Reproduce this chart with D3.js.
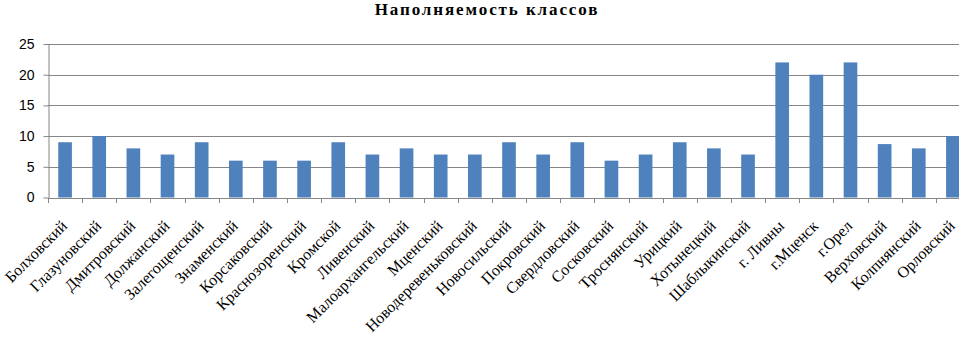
<!DOCTYPE html>
<html>
<head>
<meta charset="utf-8">
<script src="https://cdn.jsdelivr.net/npm/d3@7"></script>
<style>
  body { margin: 0; background: #fff; }
  svg { display: block; }
</style>
</head>
<body>
<svg id="chart" width="959" height="339"></svg>
<script>
// Data
const districts = [
  'Болховский', 'Глазуновский', 'Дмитровский', 'Должанский', 'Залегощенский',
  'Знаменский', 'Корсаковский', 'Краснозоренский', 'Кромской', 'Ливенский',
  'Малоархангельский', 'Мценский', 'Новодеревеньковский', 'Новосильский', 'Покровский',
  'Свердловский', 'Сосковский', 'Троснянский', 'Урицкий', 'Хотынецкий',
  'Шаблыкинский', 'г. Ливны', 'г.Мценск', 'г.Орел', 'Верховский',
  'Колпнянский', 'Орловский'
];
const fillValues = [
  9, 10, 8, 7, 9,
  6, 6, 6, 9, 7,
  8, 7, 7, 9, 7,
  9, 6, 7, 9, 8,
  7, 22, 20, 22, 8.7,
  8, 10
];
const yTicks = [0, 5, 10, 15, 20, 25];
const chartTitle = 'Наполняемость классов';

const SERIF = '"Liberation Serif", "Times New Roman", serif';
const SANS = '"Liberation Sans", Arial, sans-serif';

const svg = d3.select('#chart');
const margin = { left: 48, top: 44, right: 970, bottom: 197.5 };

const x = d3.scaleBand()
  .domain(districts)
  .range([margin.left, margin.right])
  .paddingInner(0.6)
  .paddingOuter(0.3);

const y = d3.scaleLinear()
  .domain([0, 25])
  .range([margin.bottom, margin.top]);

// Title
svg.append('text')
  .attr('x', 487)
  .attr('y', 15)
  .attr('text-anchor', 'middle')
  .style('font-family', SERIF)
  .style('font-weight', 'bold')
  .style('font-size', '17px')
  .style('letter-spacing', '1.9px')
  .text(chartTitle);

// Gridlines
svg.append('g')
  .selectAll('line')
  .data(yTicks.filter(d => d > 0))
  .enter()
  .append('line')
  .attr('x1', margin.left)
  .attr('x2', 959)
  .attr('y1', d => Math.round(y(d)) + 0.5)
  .attr('y2', d => Math.round(y(d)) + 0.5)
  .attr('stroke', '#868686')
  .attr('stroke-width', 1);

// Bars
svg.append('g')
  .selectAll('rect')
  .data(fillValues)
  .enter()
  .append('rect')
  .attr('x', (d, i) => x(districts[i]))
  .attr('y', d => y(d))
  .attr('width', x.bandwidth())
  .attr('height', d => y(0) - y(d))
  .attr('fill', '#4F81BD');

// Y axis
const yAxis = svg.append('g')
  .attr('transform', `translate(${margin.left + 0.5},0)`)
  .call(d3.axisLeft(y).tickValues(yTicks).tickSize(5).tickPadding(9).tickSizeOuter(0));
yAxis.select('.domain').attr('stroke', '#868686');
yAxis.selectAll('.tick line').attr('stroke', '#868686');
yAxis.selectAll('.tick text')
  .style('font-family', SANS)
  .style('font-size', '14px')
  .attr('fill', '#000');

// X axis line and ticks at band boundaries
const step = x.step();
const boundaries = d3.range(districts.length + 1).map(i => margin.left + i * step);
const xAxis = svg.append('g');
xAxis.append('line')
  .attr('x1', margin.left)
  .attr('x2', 959)
  .attr('y1', Math.round(y(0)) + 0.5)
  .attr('y2', Math.round(y(0)) + 0.5)
  .attr('stroke', '#868686');
xAxis.selectAll('line.tk')
  .data(boundaries)
  .enter()
  .append('line')
  .attr('class', 'tk')
  .attr('x1', d => Math.round(d) + 0.5)
  .attr('x2', d => Math.round(d) + 0.5)
  .attr('y1', Math.round(y(0)))
  .attr('y2', Math.round(y(0)) + 5)
  .attr('stroke', '#868686');

// Rotated category labels
xAxis.selectAll('text')
  .data(districts)
  .enter()
  .append('text')
  .attr('transform', d => `translate(${x(d) + x.bandwidth() / 2 - 1},223) rotate(-45)`)
  .attr('text-anchor', 'end')
  .attr('dy', '0.35em')
  .style('font-family', SERIF)
  .style('font-size', '16px')
  .attr('fill', '#000')
  .text(d => d);
</script>
</body>
</html>
